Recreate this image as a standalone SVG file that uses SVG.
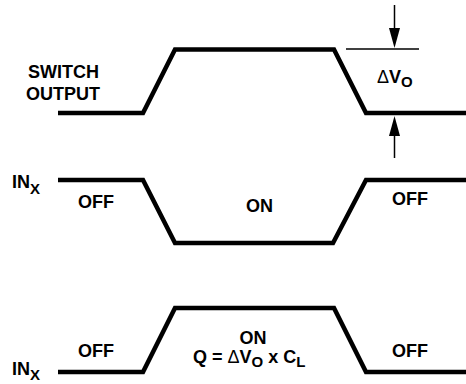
<svg xmlns="http://www.w3.org/2000/svg" width="466" height="384" viewBox="0 0 466 384">
<style>
.wave{fill:none;stroke:#000;stroke-width:4.5;stroke-linejoin:miter}
.thin{fill:none;stroke:#000;stroke-width:1.5}
text{font-family:"Liberation Sans",Arial,sans-serif;font-weight:bold;font-size:18px;fill:#000}
.sub{font-size:15px}
.delta{font-weight:normal}
</style>
<rect width="466" height="384" fill="#fff"/>
<g id="connectors">
<path class="wave" d="M58,113 L143,113 L175,49.5 L334,49.5 L366,113 L466,113"/>
<path class="wave" d="M58,180 L143,180 L175,243 L333,243 L366,180 L466,180"/>
<path class="wave" d="M58,372 L143,372 L175,308 L334,308 L366,372 L466,372"/>
<line class="thin" x1="346" y1="49" x2="419" y2="49"/>
<path d="M394.5,5 V30" class="thin"/>
<path d="M389,28 L400,28 L394.5,48 Z" fill="#000"/>
<path d="M394.5,158 V134" class="thin"/>
<path d="M389,136 L400,136 L394.5,116 Z" fill="#000"/>
</g>
<g id="switch-output-label">
<text x="28" y="78">SWITCH</text>
<text x="26" y="100">OUTPUT</text>
</g>
<g id="delta-vo-label">
<text x="377" y="83"><tspan class="delta">Δ</tspan>V<tspan class="sub" dy="4">O</tspan></text>
</g>
<g id="inx-middle">
<text x="12" y="188">IN<tspan class="sub" dy="6">X</tspan></text>
<text x="78" y="208">OFF</text>
<text x="246" y="212">ON</text>
<text x="392" y="205">OFF</text>
</g>
<g id="inx-bottom">
<text x="12" y="375">IN<tspan class="sub" dy="5">X</tspan></text>
<text x="78" y="357">OFF</text>
<text x="253" y="344" text-anchor="middle">ON</text>
<text x="193" y="363">Q = <tspan class="delta">Δ</tspan>V<tspan class="sub" dy="4">O</tspan><tspan dy="-4"> x C</tspan><tspan class="sub" dy="4">L</tspan></text>
<text x="392" y="357">OFF</text>
</g>
</svg>
